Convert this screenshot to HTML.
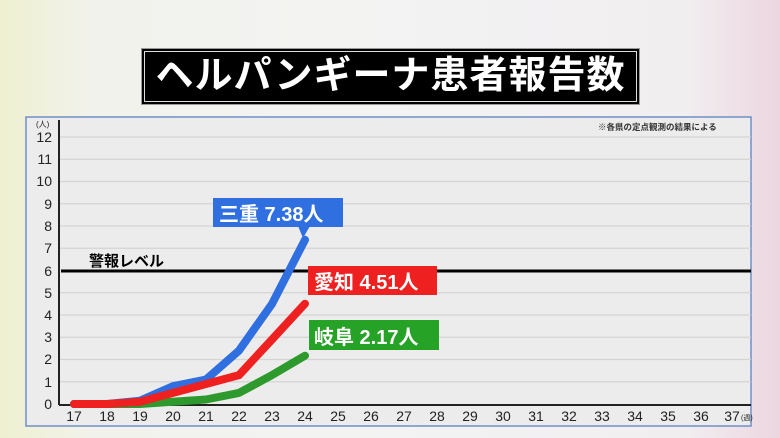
<!DOCTYPE html>
<html><head><meta charset="utf-8"><style>
body{margin:0;width:780px;height:438px;overflow:hidden;background:linear-gradient(90deg,#eef0d0 0%,#f2f2ec 12%,#f3f3f3 50%,#f1eef0 88%,#ecd6df 100%);font-family:"Liberation Sans","Noto Sans CJK JP",sans-serif;position:relative}
.t{position:absolute;left:141px;top:48px;width:497px;height:55px;background:#000;border:1px solid #999;box-shadow:0 0 0 2px #000 inset,0 0 0 3px #ddd inset;color:#fff;font-size:38px;font-weight:bold;text-align:center;line-height:55px;letter-spacing:1px}
</style></head><body>
<div class="t">ヘルパンギーナ患者報告数</div>
<svg width="780" height="438" style="position:absolute;left:0;top:0" font-family="Liberation Sans, Noto Sans CJK JP, sans-serif">
<rect x="26" y="117" width="725" height="309" fill="#ececec" stroke="#6f8fc8" stroke-width="1.5"/>
<g stroke="#d4d4d4" stroke-width="1.2">
<line x1="59" x2="751" y1="137" y2="137"/><line x1="59" x2="751" y1="159.25" y2="159.25"/><line x1="59" x2="751" y1="181.5" y2="181.5"/><line x1="59" x2="751" y1="203.75" y2="203.75"/><line x1="59" x2="751" y1="226" y2="226"/><line x1="59" x2="751" y1="248.25" y2="248.25"/><line x1="59" x2="751" y1="292.75" y2="292.75"/><line x1="59" x2="751" y1="315" y2="315"/><line x1="59" x2="751" y1="337.25" y2="337.25"/><line x1="59" x2="751" y1="359.5" y2="359.5"/><line x1="59" x2="751" y1="381.75" y2="381.75"/>
</g>
<line x1="59" y1="120" x2="59" y2="405" stroke="#222" stroke-width="2"/>
<line x1="59" y1="405" x2="751" y2="405" stroke="#222" stroke-width="2"/>
<line x1="61" y1="271" x2="751" y2="271" stroke="#000" stroke-width="3"/>
<text x="89" y="266" font-size="15" font-weight="bold">警報レベル</text>
<text x="598" y="130" font-size="8.5" font-weight="bold" fill="#333">※各県の定点観測の結果による</text>
<g font-size="14" fill="#222" text-anchor="end">
<text x="52" y="142">12</text><text x="52" y="164">11</text><text x="52" y="186">10</text><text x="52" y="209">9</text><text x="52" y="231">8</text><text x="52" y="253">7</text><text x="52" y="276">6</text><text x="52" y="298">5</text><text x="52" y="320">4</text><text x="52" y="342">3</text><text x="52" y="364">2</text><text x="52" y="387">1</text><text x="52" y="409">0</text>
</g>
<text x="36" y="127" font-size="8" fill="#222">(人)</text>
<g font-size="14" fill="#222" text-anchor="middle">
<text x="74" y="421">17</text><text x="107" y="421">18</text><text x="140" y="421">19</text><text x="173" y="421">20</text><text x="206" y="421">21</text><text x="239" y="421">22</text><text x="272" y="421">23</text><text x="305" y="421">24</text><text x="338" y="421">25</text><text x="371" y="421">26</text><text x="404" y="421">27</text><text x="437" y="421">28</text><text x="470" y="421">29</text><text x="503" y="421">30</text><text x="536" y="421">31</text><text x="569" y="421">32</text><text x="602" y="421">33</text><text x="635" y="421">34</text><text x="668" y="421">35</text><text x="701" y="421">36</text><text x="732" y="421">37</text>
</g>
<text x="741" y="420" font-size="7" fill="#222">(週)</text>
<g fill="none" stroke-width="8" stroke-linecap="round" stroke-linejoin="round">
<polyline stroke="#2e9a2e" points="74,404 107,404 140,404 173,401.8 206,399.5 239,392.9 272,375.1 305,355.7"/>
<polyline stroke="#2f6fe0" points="74,404 107,404 140,400.7 173,386.2 206,379.5 239,350.6 272,303.9 305,239.8"/>
<polyline stroke="#ee2020" points="74,404 107,404 140,401.8 173,392.9 206,384 239,375.1 272,339.5 305,303.7"/>
</g>
<g font-weight="bold" fill="#fff" font-size="20">
<polygon points="298,226 310,226 303,238" fill="#2f6fe0"/>
<rect x="213" y="198" width="130" height="29" fill="#2f6fe0"/>
<text x="219" y="221">三重 7.38人</text>
<polygon points="308,280 308,295 320,295" fill="#ee2020"/>
<rect x="308" y="266" width="129" height="29" fill="#ee2020"/>
<text x="314" y="289">愛知 4.51人</text>
<polygon points="309,336 309,350 321,350" fill="#26a226"/>
<rect x="309" y="320" width="130" height="30" fill="#26a226"/>
<text x="314" y="344">岐阜 2.17人</text>
</g>
</svg>
</body></html>
